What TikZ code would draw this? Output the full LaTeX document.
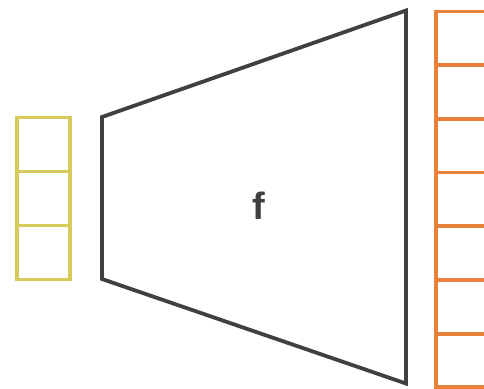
\documentclass[tikz,border=0pt]{standalone}
\usepackage{fontspec}
\setmainfont{Liberation Sans}
\usetikzlibrary{positioning}
\definecolor{inyellow}{HTML}{D6CB5A}
\definecolor{outorange}{HTML}{E8813A}
\definecolor{netgray}{HTML}{404040}

\begin{document}
\begin{tikzpicture}[x=1pt, y=-1pt,
    cell/.style={draw, line width=3.8pt, inner sep=0pt, outer sep=0pt},
    incell/.style={cell, draw=inyellow, minimum width=53pt, minimum height=54pt},
    outcell/.style={cell, draw=outorange, minimum width=54pt, minimum height=53.7pt}]
   \useasboundingbox (0,0) rectangle (484,388);
   % input vector
   \node[incell] (in_1) at (43.5,144.5) {};
   \node[incell, below=0pt of in_1] (in_2) {};
   \node[incell, below=0pt of in_2] (in_3) {};
   % mapping f
   \coordinate (f_lt) at (102,117);
   \coordinate (f_rt) at (406,10.5);
   \coordinate (f_rb) at (406,383.5);
   \coordinate (f_lb) at (102,279);
   \draw[netgray, line width=3.8pt, line join=miter] (f_lt) -- (f_rt) -- (f_rb) -- (f_lb) -- cycle;
   \node[text=netgray, font=\fontsize{38}{42}\selectfont\bfseries] (f) at (259,206) {f};
   % output vector
   \node[outcell] (out_1) at (463,38.3) {};
   \foreach \i [evaluate=\i as \j using int(\i-1)] in {2,...,7}
     \node[outcell, below=0pt of out_\j] (out_\i) {};
\end{tikzpicture}
\end{document}
